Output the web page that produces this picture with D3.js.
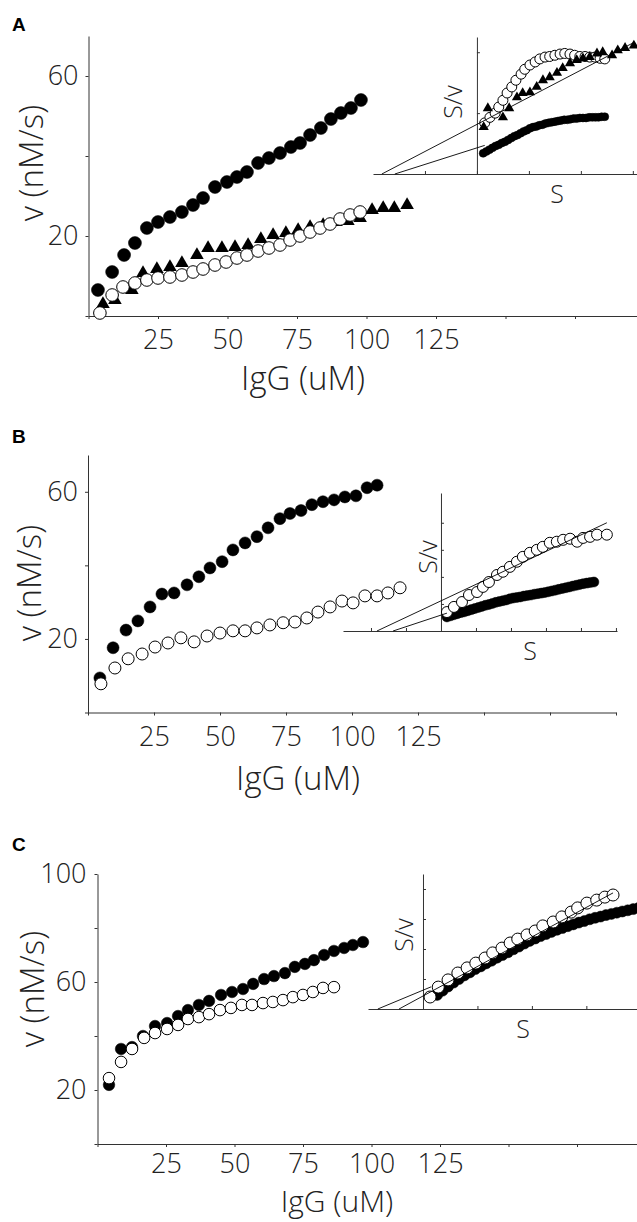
<!DOCTYPE html>
<html>
<head>
<meta charset="utf-8">
<style>
  body { margin: 0; background: #fff; }
  svg { display: block; font-family: 'Open Sans', 'DejaVu Sans', sans-serif; }
  .tick text { font-size: 27px; font-weight: 300; fill: #222; }
  .lab { font-weight: 300; fill: #222; }
  .letter { font-family: Arial, 'Liberation Sans', sans-serif; font-weight: bold; font-size: 19px; }
</style>
</head>
<body>
<svg width="637" height="1222"></svg>
<script src="https://d3js.org/d3.v7.min.js"></script>
<script>
// ---- shared ticks ----
let xTicks = [0, 25, 50, 75, 100, 125, 150, 175, 200]
let xTickLabels = [25, 50, 75, 100, 125]

// ---- panel A, main: IgG (uM) vs v (nM/s) ----
let aFilledX = [3.4, 8.5, 12.8, 16.7, 21, 25, 29.3, 33.6, 37.6, 41.2, 45.5, 49.8, 53.4, 57, 61, 64.9, 68.9, 72.8, 76.1, 79.7, 83.6, 87.2, 90.8, 94.4, 98]
let aFilledV = [6.5, 11, 15.25, 18.25, 22, 23.5, 24.75, 26, 27.75, 29.5, 32.25, 33.5, 34.75, 36, 38.25, 39.5, 40.75, 42.25, 43.25, 45.25, 47, 49.25, 50.75, 52, 54]
let aOpenX = [4.1, 8.5, 12.4, 16.7, 21, 25, 29.3, 33.6, 37.6, 41.2, 45.5, 49.5, 53.4, 57, 61, 64.9, 68.9, 72.5, 76.1, 79.7, 83.3, 86.9, 90.5, 94.1, 97.7]
let aOpenV = [0.75, 5.25, 7.25, 8.25, 9, 9.5, 9.75, 10.25, 11, 11.75, 12.75, 13.5, 14.5, 15.25, 16.25, 17, 17.75, 19, 20, 21, 22, 23, 24.25, 25.25, 26]
let aTriX = [5.2, 9.5, 15.6, 19.6, 24.6, 29.3, 33.6, 39, 43, 48, 52.7, 57.4, 62, 66.4, 71, 75.4, 79.7, 84.4, 89, 93.3, 97.7, 102, 106, 110, 114.6]
let aTriV = [3, 4, 6.5, 10.75, 11.75, 12.25, 13.25, 15.25, 17, 17, 17.25, 17.75, 19.25, 20.25, 20.75, 21.5, 22.25, 22.75, 23.5, 23.75, 24.5, 26.5, 27, 27, 27.75]
let aYTicks = [0, 20, 40, 60]
let aYLabels = [20, 60]

// panel A, inset: S vs S/v (arbitrary units)
let aInFilledS = [0.12, 0.18, 0.24, 0.30, 0.36, 0.42, 0.48, 0.54, 0.60, 0.66, 0.72, 0.78, 0.84, 0.90, 0.96, 1.02, 1.08, 1.14, 1.20, 1.26, 1.32, 1.38, 1.44, 1.50, 1.56, 1.62, 1.68, 1.74, 1.80, 1.86, 1.92, 1.98, 2.04, 2.10, 2.16, 2.22, 2.28, 2.34, 2.40, 2.46]
let aInFilledSv = [0.34, 0.37, 0.40, 0.43, 0.46, 0.48, 0.51, 0.53, 0.56, 0.59, 0.62, 0.64, 0.67, 0.70, 0.72, 0.75, 0.77, 0.78, 0.80, 0.81, 0.83, 0.84, 0.85, 0.86, 0.87, 0.88, 0.89, 0.89, 0.90, 0.91, 0.91, 0.92, 0.92, 0.92, 0.93, 0.93, 0.93, 0.93, 0.94, 0.94]
let aInOpenS = [0.15, 0.25, 0.35, 0.42, 0.5, 0.58, 0.67, 0.75, 0.85, 0.92, 1.02, 1.12, 1.21, 1.31, 1.4, 1.5, 1.6, 1.69, 1.79, 1.88, 1.98, 2.08, 2.17, 2.27, 2.37, 2.46]
let aInOpenSv = [0.84, 0.93, 1.0, 1.1, 1.21, 1.33, 1.43, 1.54, 1.64, 1.72, 1.79, 1.84, 1.89, 1.92, 1.93, 1.95, 1.97, 1.98, 1.97, 1.95, 1.93, 1.93, 1.92, 1.92, 1.9, 1.89]
let aInTriS = [0.13, 0.21, 0.5, 0.62, 0.77, 0.88, 1.02, 1.15, 1.27, 1.4, 1.54, 1.65, 1.79, 1.92, 2.04, 2.17, 2.31, 2.42, 2.6, 2.71, 2.85, 3.02]
let aInTriSv = [0.77, 1.08, 0.93, 1.08, 1.26, 1.33, 1.34, 1.43, 1.54, 1.59, 1.66, 1.74, 1.82, 1.87, 1.9, 1.92, 1.98, 2.0, 1.95, 2.03, 2.07, 2.11]
let aInFits = [[-1.83, 0, 3.02, 2.16], [-1.58, 0, 0.15, 0.47]]
let aInXTicks = [-1, 0, 1, 2, 3]
let aInYTicks = [1, 2]

// ---- panel B ----
let bFilledX = [4.5, 9.5, 14.4, 18.9, 23.5, 28, 32.6, 37.5, 42, 46.2, 50.8, 54.9, 59.5, 64, 68.2, 72.7, 76.5, 80.7, 84.8, 89, 93.2, 97.3, 101.5, 105.7, 109.5]
let bFilledV = [9.4, 17.6, 22.4, 24.9, 28.7, 32.2, 32.5, 34.7, 36.9, 39.3, 41, 44.2, 46.1, 47.8, 50.2, 52.7, 54.1, 54.9, 56.5, 57.3, 57.8, 58.6, 58.9, 61.1, 61.8]
let bOpenX = [4.9, 10.2, 15.2, 20.5, 25.4, 30.3, 35.2, 40.2, 45.1, 50, 54.9, 59.5, 64, 68.9, 73.9, 78.4, 82.9, 87.1, 91.7, 96.2, 100.4, 104.9, 109.5, 113.6, 118.2]
let bOpenV = [7.8, 12.1, 14.6, 15.9, 17.8, 18.9, 20.3, 19.2, 20.8, 21.6, 22.2, 22.2, 23, 23.8, 24.4, 24.6, 25.7, 27.3, 28.7, 30.3, 29.8, 31.7, 31.7, 32.5, 33.9]
let bYTicks = [0, 20, 40, 60]
let bYLabels = [20, 60]

let bInFilledS = [0.17, 0.27, 0.37, 0.47, 0.57, 0.67, 0.77, 0.87, 0.97, 1.07, 1.17, 1.27, 1.37, 1.47, 1.57, 1.67, 1.77, 1.87, 1.97, 2.07, 2.17, 2.27, 2.37, 2.47, 2.57, 2.67, 2.77, 2.87, 2.97, 3.07, 3.17, 3.27, 3.37, 3.47, 3.57, 3.67, 3.77, 3.87, 3.97, 4.07, 4.17, 4.27, 4.37]
let bInFilledSv = [0.52, 0.56, 0.60, 0.64, 0.68, 0.71, 0.75, 0.79, 0.83, 0.87, 0.91, 0.95, 0.98, 1.02, 1.06, 1.09, 1.12, 1.15, 1.19, 1.22, 1.24, 1.26, 1.29, 1.31, 1.33, 1.36, 1.38, 1.40, 1.42, 1.45, 1.48, 1.51, 1.54, 1.57, 1.60, 1.63, 1.66, 1.69, 1.72, 1.75, 1.77, 1.79, 1.81]
let bInOpenS = [0.17, 0.37, 0.6, 0.8, 1.03, 1.2, 1.37, 1.6, 1.77, 1.97, 2.17, 2.34, 2.54, 2.74, 2.91, 3.11, 3.31, 3.49, 3.69, 3.89, 4.06, 4.26, 4.46, 4.74]
let bInOpenSv = [0.7, 0.89, 1.07, 1.33, 1.44, 1.63, 1.81, 2.07, 2.19, 2.37, 2.56, 2.74, 2.89, 3.0, 3.11, 3.26, 3.3, 3.37, 3.41, 3.3, 3.44, 3.48, 3.56, 3.56]
let bInFits = [[-1.83, 0, 4.74, 4.0], [-1.37, 0, 0.17, 0.66]]
let bInXTicks = [-2, -1, 1, 2, 3, 4, 5]
let bInYTicks = [1, 2, 3, 4]

// ---- panel C ----
let cFilledX = [4.2, 8.6, 12.6, 16.6, 21, 25.4, 29.4, 33, 37, 40.7, 45.1, 49.1, 53.1, 56.8, 60.8, 64.4, 68.4, 72, 75.7, 79, 82.7, 86.3, 90, 93.2, 96.9]
let cFilledV = [21.9, 35.2, 35.9, 40, 43.7, 44.8, 47.4, 49.6, 51.5, 53, 55.2, 56.3, 57.4, 59.3, 61.1, 62.2, 63.3, 65.6, 66.7, 68.1, 70, 71.5, 72.6, 73.7, 74.8]
let cOpenX = [4.2, 8.6, 12.6, 17, 21, 25.4, 29.4, 33, 37, 40.7, 44.7, 48.7, 52.7, 56.4, 60.4, 64, 67.7, 71.3, 75, 78.6, 82.3, 86.3]
let cOpenV = [24.4, 30.4, 35.2, 39.3, 41.1, 42.6, 44.1, 46.3, 47, 48.1, 49.6, 50.4, 51.5, 51.5, 52.2, 52.6, 53.3, 54.4, 55.2, 56.3, 57.8, 58.1]
let cYTicks = [0, 20, 40, 60, 80, 100]
let cYLabels = [20, 60, 100]

let cInFilledS = [0.26, 0.36, 0.46, 0.56, 0.66, 0.76, 0.86, 0.96, 1.06, 1.16, 1.26, 1.36, 1.46, 1.56, 1.66, 1.76, 1.86, 1.96, 2.06, 2.16, 2.26, 2.36, 2.46, 2.56, 2.66, 2.76, 2.86, 2.96, 3.06, 3.16, 3.26, 3.36, 3.46, 3.56, 3.66, 3.76, 3.86, 3.96]
let cInFilledSv = [0.47, 0.61, 0.75, 0.88, 1.00, 1.12, 1.22, 1.33, 1.42, 1.52, 1.61, 1.71, 1.80, 1.89, 1.99, 2.08, 2.18, 2.27, 2.35, 2.43, 2.50, 2.57, 2.64, 2.70, 2.76, 2.82, 2.88, 2.93, 2.99, 3.04, 3.08, 3.13, 3.17, 3.21, 3.25, 3.29, 3.33, 3.37]
let cInOpenS = [0.13, 0.28, 0.46, 0.64, 0.81, 0.97, 1.14, 1.28, 1.45, 1.6, 1.74, 1.91, 2.06, 2.2, 2.39, 2.55, 2.72, 2.84, 3.01, 3.19, 3.34, 3.49]
let cInOpenSv = [0.4, 0.73, 0.97, 1.2, 1.37, 1.53, 1.7, 1.87, 2.03, 2.2, 2.33, 2.47, 2.6, 2.77, 2.9, 3.07, 3.23, 3.37, 3.53, 3.63, 3.73, 3.8]
let cInFits = [[-0.44, 0, 3.49, 3.87], [-0.83, 0, 0.15, 0.74]]
let cInXTicks = [1, 2, 3]
let cInYTicks = [1, 2, 3, 4]

let svg = d3.select("svg")

function zip(xs, ys) { return xs.map((d, i) => [d, ys[i]]) }

function axisStyle(g) {
    g.attr("font-size", null).attr("font-family", null)
    g.select(".domain").attr("stroke", "#333")
    g.selectAll(".tick line").attr("stroke", "#333")
}

function drawMarkers(g, x, y, pts, kind, r) {
    if (kind == "tri") {
        g.selectAll(null).data(pts).join("path")
            .attr("d", d3.symbol(d3.symbolTriangle, r))
            .attr("transform", d => `translate(${x(d[0])},${y(d[1])})`)
            .attr("fill", "#000")
    } else {
        g.selectAll(null).data(pts).join("circle")
            .attr("cx", d => x(d[0]))
            .attr("cy", d => y(d[1]))
            .attr("r", r)
            .attr("fill", kind == "filled" ? "#000" : "#fff")
            .attr("stroke", "#000")
            .attr("stroke-width", kind == "filled" ? 0.5 : 1)
    }
}

function drawMain(p) {
    let x = d3.scaleLinear().domain([0, 200]).range(p.xr)
    let y = d3.scaleLinear().domain(p.yd).range(p.yr)
    let g = svg.append("g")

    g.append("g")
        .attr("transform", `translate(0,${p.yr[0]})`)
        .call(d3.axisBottom(x).tickValues(xTicks).tickSize(3).tickSizeOuter(0).tickPadding(p.xPad)
            .tickFormat(d => xTickLabels.includes(d) ? d : ""))
        .call(axisStyle)

    g.append("g")
        .attr("transform", `translate(${p.xr[0]},0)`)
        .call(d3.axisLeft(y).tickValues(p.yTicks).tickSize(3).tickSizeOuter(0).tickPadding(p.yPad)
            .tickFormat(d => p.yLabels.includes(d) ? d : ""))
        .call(axisStyle)

    p.series.forEach(s => drawMarkers(g, x, y, s.pts, s.kind, s.r))

    g.append("text").attr("class", "lab")
        .attr("x", p.xLab[0]).attr("y", p.xLab[1])
        .attr("text-anchor", "middle").attr("font-size", p.xLabSize)
        .text("IgG (uM)")
    g.append("text").attr("class", "lab")
        .attr("transform", `translate(${p.yLab[0]},${p.yLab[1]}) rotate(-90)`)
        .attr("text-anchor", "middle").attr("dominant-baseline", "central").attr("font-size", 33)
        .text("v (nM/s)")
    g.append("text").attr("class", "letter")
        .attr("x", 12).attr("y", p.letterY).text(p.letter)
}

function drawInset(p) {
    let x = d3.scaleLinear().domain(p.xd).range(p.xr)
    let y = d3.scaleLinear().domain(p.yd).range(p.yr)
    let g = svg.append("g")

    g.append("g")
        .attr("transform", `translate(0,${y(0)})`)
        .call(d3.axisBottom(x).tickValues(p.xTicks).tickSize(-3).tickSizeOuter(0).tickFormat(""))
        .call(axisStyle)
    g.append("g")
        .attr("transform", `translate(${x(0)},0)`)
        .call(d3.axisLeft(y).tickValues(p.yTicks).tickSize(-3).tickSizeOuter(0).tickFormat(""))
        .call(axisStyle)

    p.series.forEach(s => drawMarkers(g, x, y, s.pts, s.kind, s.r))

    g.selectAll(null).data(p.fits).join("line")
        .attr("x1", d => x(d[0])).attr("y1", d => y(d[1]))
        .attr("x2", d => x(d[2])).attr("y2", d => y(d[3]))
        .attr("stroke", "#000").attr("stroke-width", 0.9)

    g.append("text").attr("class", "lab")
        .attr("transform", `translate(${p.svLab[0]},${p.svLab[1]}) rotate(-90)`)
        .attr("text-anchor", "middle").attr("dominant-baseline", "central").attr("font-size", 25)
        .text("S/v")
    g.append("text").attr("class", "lab")
        .attr("x", p.sLab[0]).attr("y", p.sLab[1])
        .attr("text-anchor", "middle").attr("dominant-baseline", "central").attr("font-size", 25)
        .text("S")
}

// panel A
drawMain({
    letter: "A", letterY: 31,
    xr: [88.5, 644.5], yd: [0, 70], yr: [316, 36], yPad: 7, xPad: 11,
    yTicks: aYTicks, yLabels: aYLabels,
    xLab: [303, 390], xLabSize: 33, yLab: [30, 163],
    series: [
        { pts: zip(aFilledX, aFilledV), kind: "filled", r: 6.5 },
        { pts: zip(aTriX, aTriV), kind: "tri", r: 80 },
        { pts: zip(aOpenX, aOpenV), kind: "open", r: 6.3 }
    ]
})
drawInset({
    xd: [-2, 3.08], xr: [373, 637], yd: [0, 2.25], yr: [174, 37],
    xTicks: aInXTicks, yTicks: aInYTicks, fits: aInFits,
    svLab: [452, 102], sLab: [557, 193],
    series: [
        { pts: zip(aInFilledS, aInFilledSv), kind: "filled", r: 4 },
        { pts: zip(aInOpenS, aInOpenSv), kind: "open", r: 5 },
        { pts: zip(aInTriS, aInTriSv), kind: "tri", r: 45 }
    ]
})

// panel B
drawMain({
    letter: "B", letterY: 443,
    xr: [88, 616], yd: [0, 70], yr: [712.5, 455], yPad: 7, xPad: 11,
    yTicks: bYTicks, yLabels: bYLabels,
    xLab: [298, 790], xLabSize: 33, yLab: [28, 583],
    series: [
        { pts: zip(bFilledX, bFilledV), kind: "filled", r: 6 },
        { pts: zip(bOpenX, bOpenV), kind: "open", r: 6 }
    ]
})
drawInset({
    xd: [-2.8, 5.03], xr: [343, 617], yd: [0, 5.1], yr: [631, 493],
    xTicks: bInXTicks, yTicks: bInYTicks, fits: bInFits,
    svLab: [427, 557], sLab: [530, 650],
    series: [
        { pts: zip(bInFilledS, bInFilledSv), kind: "filled", r: 5 },
        { pts: zip(bInOpenS, bInOpenSv), kind: "open", r: 5.5 }
    ]
})

// panel C
drawMain({
    letter: "C", letterY: 851,
    xr: [97.5, 645.5], yd: [0, 100], yr: [1144, 874], yPad: 8, xPad: 7,
    yTicks: cYTicks, yLabels: cYLabels,
    xLab: [337, 1212], xLabSize: 30, yLab: [31, 989],
    series: [
        { pts: zip(cFilledX, cFilledV), kind: "filled", r: 5.8 },
        { pts: zip(cOpenX, cOpenV), kind: "open", r: 5.8 }
    ]
})
drawInset({
    xd: [-1.01, 3.93], xr: [368, 637], yd: [0, 4.5], yr: [1009, 874],
    xTicks: cInXTicks, yTicks: cInYTicks, fits: cInFits,
    svLab: [403, 935], sLab: [523, 1028],
    series: [
        { pts: zip(cInFilledS, cInFilledSv), kind: "filled", r: 5.5 },
        { pts: zip(cInOpenS, cInOpenSv), kind: "open", r: 6 }
    ]
})
</script>
</body>
</html>
